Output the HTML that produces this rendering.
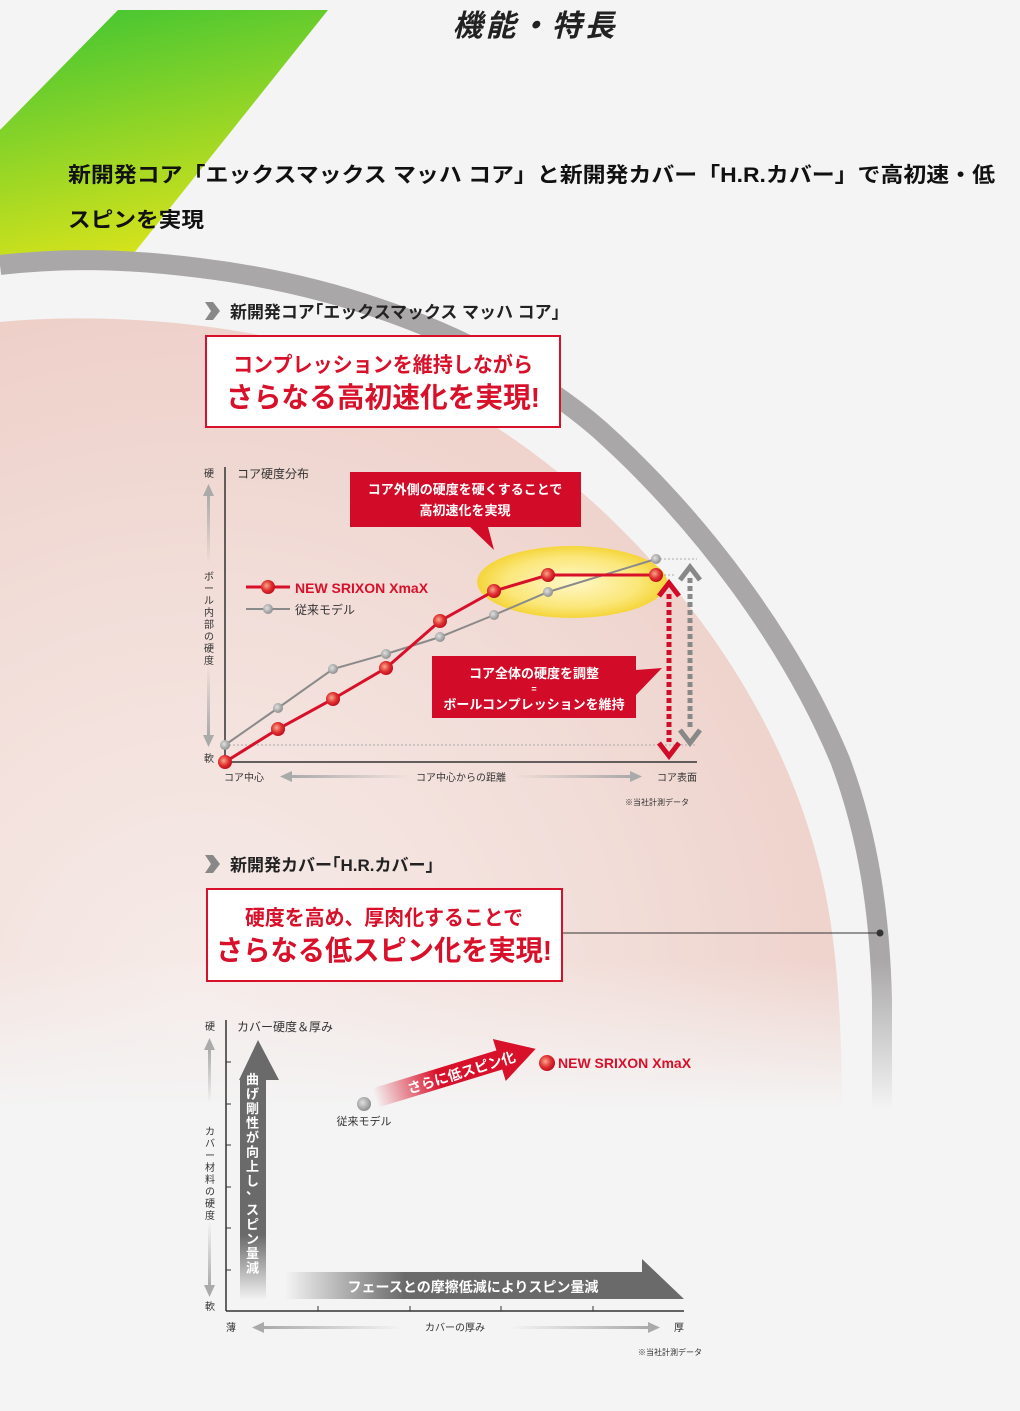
<!DOCTYPE html>
<html><head><meta charset="utf-8"><style>
html,body{margin:0;padding:0;background:#f4f4f4;width:1020px;height:1411px;overflow:hidden;}
svg{display:block;}
text{font-family:"Liberation Sans","Noto Sans CJK JP",sans-serif;}
</style></head><body>
<svg width="1020" height="1411" viewBox="0 0 1020 1411" xmlns="http://www.w3.org/2000/svg">
<defs>
<linearGradient id="grn" x1="0" y1="0" x2="0.3" y2="1">
<stop offset="0" stop-color="#3cc434"/><stop offset="1" stop-color="#d4e21c"/></linearGradient>
<radialGradient id="pink" cx="200" cy="1000" r="700" gradientUnits="userSpaceOnUse">
<stop offset="0" stop-color="#f6ece9"/><stop offset="0.6" stop-color="#f2ddd8"/><stop offset="1" stop-color="#eed0c9"/></radialGradient>
<linearGradient id="fade" x1="0" y1="0" x2="0" y2="1">
<stop offset="0" stop-color="#f4f4f4" stop-opacity="0"/><stop offset="1" stop-color="#f4f4f4" stop-opacity="1"/></linearGradient>
<radialGradient id="yel" cx="0.5" cy="0.5" r="0.5">
<stop offset="0" stop-color="#fff8c8"/><stop offset="0.7" stop-color="#fbe77a"/><stop offset="1" stop-color="#f5d53a"/></radialGradient>
<radialGradient id="rdot" cx="0.4" cy="0.4" r="0.6">
<stop offset="0" stop-color="#f7a88c"/><stop offset="0.6" stop-color="#e03030"/><stop offset="1" stop-color="#c0101e"/></radialGradient>
<radialGradient id="gdot" cx="0.4" cy="0.4" r="0.6">
<stop offset="0" stop-color="#e0e0e0"/><stop offset="1" stop-color="#909090"/></radialGradient>
<linearGradient id="vgray" x1="0" y1="1" x2="0" y2="0">
<stop offset="0" stop-color="#6a6a6a" stop-opacity="0"/><stop offset="0.25" stop-color="#6a6a6a"/><stop offset="1" stop-color="#6a6a6a"/></linearGradient>
<linearGradient id="hgray" x1="0" y1="0" x2="1" y2="0">
<stop offset="0" stop-color="#6a6a6a" stop-opacity="0"/><stop offset="0.3" stop-color="#6a6a6a"/><stop offset="1" stop-color="#6a6a6a"/></linearGradient>
<linearGradient id="hred" x1="0" y1="0" x2="1" y2="0">
<stop offset="0" stop-color="#d8102a" stop-opacity="0"/><stop offset="0.4" stop-color="#d8102a"/><stop offset="1" stop-color="#d8102a"/></linearGradient>
<linearGradient id="axl" x1="0" y1="0" x2="1" y2="0">
<stop offset="0" stop-color="#aaa"/><stop offset="1" stop-color="#aaa" stop-opacity="0"/></linearGradient>
<linearGradient id="axr" x1="0" y1="0" x2="1" y2="0">
<stop offset="0" stop-color="#aaa" stop-opacity="0"/><stop offset="1" stop-color="#aaa"/></linearGradient>
<linearGradient id="axu" x1="0" y1="0" x2="0" y2="1">
<stop offset="0" stop-color="#aaa"/><stop offset="1" stop-color="#aaa" stop-opacity="0"/></linearGradient>
<linearGradient id="axd" x1="0" y1="0" x2="0" y2="1">
<stop offset="0" stop-color="#aaa" stop-opacity="0"/><stop offset="1" stop-color="#aaa"/></linearGradient>
</defs>

<!-- green banner -->
<polygon points="118,10 328,10 130,258 0,258 0,130" fill="url(#grn)"/>

<!-- ball -->
<path d="M0,322 C100,312 300,318 450,400 C600,480 760,650 815,850 C835,920 842,1000 842,1120 L0,1120 Z" fill="url(#pink)"/>
<path d="M0,265 C60,258 120,258 200,268 C380,290 520,360 600,430 C700,520 790,640 840,760 C870,840 880,920 882,1000 L882,1120" fill="none" stroke="#a9a7a7" stroke-width="20"/>
<rect x="0" y="960" width="1020" height="150" fill="url(#fade)"/>
<rect x="0" y="1110" width="1020" height="310" fill="#f4f4f4"/>

<!-- title -->
<text x="535" y="36" font-size="30" font-weight="bold" font-style="italic" text-anchor="middle" fill="#222" letter-spacing="3">機能・特長</text>
<text x="68" y="182" font-size="21" font-weight="bold" fill="#111" textLength="927" lengthAdjust="spacingAndGlyphs">新開発コア「エックスマックス マッハ コア」と新開発カバー「H.R.カバー」で高初速・低</text>
<text x="68" y="227" font-size="21" font-weight="bold" fill="#111" textLength="136" lengthAdjust="spacingAndGlyphs">スピンを実現</text>

<!-- section 1 -->
<polygon points="205,302 213,302 220,311 213,320 205,320 211,311" fill="#888"/>
<text x="230" y="318" font-size="17" font-weight="bold" fill="#222" textLength="330" lengthAdjust="spacingAndGlyphs">新開発コア｢エックスマックス マッハ コア｣</text>
<rect x="206" y="336" width="354" height="91" fill="#fff" stroke="#d8102a" stroke-width="2"/>
<text x="383" y="372" font-size="21" font-weight="bold" fill="#d8102a" text-anchor="middle" textLength="300" lengthAdjust="spacingAndGlyphs">コンプレッションを維持しながら</text>
<text x="383" y="407" font-size="28" font-weight="bold" fill="#d8102a" text-anchor="middle" textLength="314" lengthAdjust="spacingAndGlyphs">さらなる高初速化を実現!</text>

<!-- chart 1 -->
<line x1="225" y1="467" x2="225" y2="762" stroke="#333" stroke-width="1.5"/>
<line x1="225" y1="762" x2="697" y2="762" stroke="#333" stroke-width="1.5"/>
<text x="209" y="477" font-size="10" fill="#333" text-anchor="middle">硬</text>
<text x="209" y="762" font-size="10" fill="#333" text-anchor="middle">軟</text>
<rect x="207" y="494" width="3" height="70" fill="url(#axu)"/><polygon points="203,496 214,496 208.5,484" fill="#aaa"/>
<rect x="207" y="665" width="3" height="70" fill="url(#axd)"/><polygon points="203,735 214,735 208.5,747" fill="#aaa"/>
<text font-size="10" fill="#333"><tspan x="204" y="580">ボ</tspan><tspan x="204" y="592">ー</tspan><tspan x="204" y="604">ル</tspan><tspan x="204" y="616">内</tspan><tspan x="204" y="628">部</tspan><tspan x="204" y="640">の</tspan><tspan x="204" y="652">硬</tspan><tspan x="204" y="664">度</tspan></text>
<text x="237" y="478" font-size="12" fill="#333">コア硬度分布</text>
<text x="224" y="781" font-size="10" fill="#333">コア中心</text>
<text x="461" y="781" font-size="10" fill="#333" text-anchor="middle">コア中心からの距離</text>
<text x="697" y="781" font-size="10" fill="#333" text-anchor="end">コア表面</text>
<rect x="290" y="775" width="120" height="3" fill="url(#axl)"/><polygon points="292,771 292,782 280,776.5" fill="#aaa"/>
<rect x="512" y="775" width="120" height="3" fill="url(#axr)"/><polygon points="630,771 630,782 642,776.5" fill="#aaa"/>
<text x="689" y="805" font-size="8" fill="#333" text-anchor="end">※当社計測データ</text>

<ellipse cx="572" cy="582" rx="95" ry="36" fill="url(#yel)"/>
<line x1="656" y1="559" x2="697" y2="559" stroke="#aaa" stroke-dasharray="2,2"/>
<line x1="225" y1="745" x2="697" y2="745" stroke="#aaa" stroke-dasharray="2,2"/>
<line x1="656" y1="575" x2="675" y2="575" stroke="#aaa" stroke-dasharray="2,2"/>
<polyline points="225,745 278,708 333,669 386,654 440,637 494,615 548,592 656,559" fill="none" stroke="#8a8a8a" stroke-width="2"/>
<g fill="url(#gdot)"><circle cx="225" cy="745" r="5"/><circle cx="278" cy="708" r="5"/><circle cx="333" cy="669" r="5"/><circle cx="386" cy="654" r="5"/><circle cx="440" cy="637" r="5"/><circle cx="494" cy="615" r="5"/><circle cx="548" cy="592" r="5"/><circle cx="656" cy="559" r="5"/></g>
<polyline points="225,762 278,729 333,699 386,668 440,621 494,591 548,575 656,575" fill="none" stroke="#d8102a" stroke-width="3"/>
<g fill="url(#rdot)"><circle cx="225" cy="762" r="7"/><circle cx="278" cy="729" r="7"/><circle cx="333" cy="699" r="7"/><circle cx="386" cy="668" r="7"/><circle cx="440" cy="621" r="7"/><circle cx="494" cy="591" r="7"/><circle cx="548" cy="575" r="7"/><circle cx="656" cy="575" r="7"/></g>

<line x1="246" y1="587" x2="290" y2="587" stroke="#d8102a" stroke-width="3"/><circle cx="268" cy="587" r="7" fill="url(#rdot)"/>
<text x="295" y="593" font-size="14" font-weight="bold" fill="#d8102a">NEW SRIXON XmaX</text>
<line x1="246" y1="609" x2="290" y2="609" stroke="#8a8a8a" stroke-width="2"/><circle cx="268" cy="609" r="5" fill="url(#gdot)"/>
<text x="295" y="614" font-size="12" fill="#333">従来モデル</text>

<!-- callouts -->
<polygon points="350,472 581,472 581,527 488,527 494,550 470,527 350,527" fill="#d20c28"/>
<text x="465" y="494" font-size="13" font-weight="bold" fill="#fff" text-anchor="middle">コア外側の硬度を硬くすることで</text>
<text x="465" y="515" font-size="13" font-weight="bold" fill="#fff" text-anchor="middle">高初速化を実現</text>
<polygon points="432,656 636,656 636,670 662,668 636,695 636,718 432,718" fill="#d20c28"/>
<text x="534" y="678" font-size="13" font-weight="bold" fill="#fff" text-anchor="middle">コア全体の硬度を調整</text>
<text x="534" y="692" font-size="9" font-weight="bold" fill="#fff" text-anchor="middle">=</text>
<text x="534" y="709" font-size="13" font-weight="bold" fill="#fff" text-anchor="middle">ボールコンプレッションを維持</text>

<!-- double arrows -->
<line x1="669" y1="594" x2="669" y2="742" stroke="#d20c28" stroke-width="5" stroke-dasharray="5,3"/>
<polyline points="659,596 669,583 679,596" fill="none" stroke="#d20c28" stroke-width="5"/>
<polyline points="659,743 669,756 679,743" fill="none" stroke="#d20c28" stroke-width="5"/>
<line x1="690" y1="578" x2="690" y2="730" stroke="#888" stroke-width="5" stroke-dasharray="5,3"/>
<polyline points="680,580 690,567 700,580" fill="none" stroke="#888" stroke-width="5"/>
<polyline points="680,730 690,743 700,730" fill="none" stroke="#888" stroke-width="5"/>

<!-- section 2 -->
<polygon points="205,855 213,855 220,864 213,873 205,873 211,864" fill="#888"/>
<text x="230" y="871" font-size="17" font-weight="bold" fill="#222">新開発カバー｢H.R.カバー｣</text>
<rect x="207" y="889" width="355" height="92" fill="#fff" stroke="#d8102a" stroke-width="2"/>
<text x="384" y="925" font-size="21" font-weight="bold" fill="#d8102a" text-anchor="middle" textLength="278" lengthAdjust="spacingAndGlyphs">硬度を高め、厚肉化することで</text>
<text x="384" y="960" font-size="28" font-weight="bold" fill="#d8102a" text-anchor="middle" textLength="336" lengthAdjust="spacingAndGlyphs">さらなる低スピン化を実現!</text>
<line x1="563" y1="933" x2="880" y2="933" stroke="#333" stroke-width="1"/>
<circle cx="880" cy="933" r="3.5" fill="#333"/>

<!-- chart 2 -->
<line x1="226" y1="1020" x2="226" y2="1311" stroke="#333" stroke-width="1.5"/>
<line x1="226" y1="1311" x2="684" y2="1311" stroke="#333" stroke-width="1.5"/>
<g stroke="#333" stroke-width="1"><line x1="226" y1="1062" x2="231" y2="1062"/><line x1="226" y1="1104" x2="231" y2="1104"/><line x1="226" y1="1145" x2="231" y2="1145"/><line x1="226" y1="1187" x2="231" y2="1187"/><line x1="226" y1="1228" x2="231" y2="1228"/><line x1="226" y1="1270" x2="231" y2="1270"/>
<line x1="318" y1="1311" x2="318" y2="1306"/><line x1="410" y1="1311" x2="410" y2="1306"/><line x1="501" y1="1311" x2="501" y2="1306"/><line x1="593" y1="1311" x2="593" y2="1306"/></g>
<text x="210" y="1030" font-size="10" fill="#333" text-anchor="middle">硬</text>
<text x="210" y="1310" font-size="10" fill="#333" text-anchor="middle">軟</text>
<rect x="208" y="1048" width="3" height="55" fill="url(#axu)"/><polygon points="204,1050 215,1050 209.5,1038" fill="#aaa"/>
<rect x="208" y="1222" width="3" height="65" fill="url(#axd)"/><polygon points="204,1285 215,1285 209.5,1297" fill="#aaa"/>
<text font-size="10" fill="#333"><tspan x="205" y="1135">カ</tspan><tspan x="205" y="1147">バ</tspan><tspan x="205" y="1159">ー</tspan><tspan x="205" y="1171">材</tspan><tspan x="205" y="1183">料</tspan><tspan x="205" y="1195">の</tspan><tspan x="205" y="1207">硬</tspan><tspan x="205" y="1219">度</tspan></text>
<text x="237" y="1031" font-size="12" fill="#333">カバー硬度＆厚み</text>
<text x="226" y="1331" font-size="10" fill="#333">薄</text>
<text x="684" y="1331" font-size="10" fill="#333" text-anchor="end">厚</text>
<text x="455" y="1331" font-size="10" fill="#333" text-anchor="middle">カバーの厚み</text>
<rect x="262" y="1326" width="140" height="3" fill="url(#axl)"/><polygon points="264,1322 264,1333 252,1327.5" fill="#aaa"/>
<rect x="510" y="1326" width="140" height="3" fill="url(#axr)"/><polygon points="648,1322 648,1333 660,1327.5" fill="#aaa"/>
<text x="702" y="1355" font-size="8" fill="#333" text-anchor="end">※当社計測データ</text>

<path d="M240,1300 L240,1080 L239,1080 L258,1040 L279,1080 L266,1080 L266,1300 Z" fill="url(#vgray)"/>
<text font-size="13" font-weight="bold" fill="#fff"><tspan x="246" y="1084">曲</tspan><tspan x="246" y="1098.5">げ</tspan><tspan x="246" y="1113">剛</tspan><tspan x="246" y="1127.5">性</tspan><tspan x="246" y="1142">が</tspan><tspan x="246" y="1156.5">向</tspan><tspan x="246" y="1171">上</tspan><tspan x="246" y="1185.5">し</tspan><tspan x="246" y="1194">、</tspan><tspan x="246" y="1214.5">ス</tspan><tspan x="246" y="1229">ピ</tspan><tspan x="246" y="1243.5">ン</tspan><tspan x="246" y="1258">量</tspan><tspan x="246" y="1272.5">減</tspan></text>
<path d="M285,1272 L642,1272 L642,1259 L684,1299 L285,1299 Z" fill="url(#hgray)"/>
<text x="473" y="1292" font-size="14" font-weight="bold" fill="#fff" text-anchor="middle">フェースとの摩擦低減によりスピン量減</text>

<g transform="translate(375,1098) rotate(-17)">
<path d="M0,-10 L130,-10 L130,-22 L168,0 L130,22 L130,10 L0,10 Z" fill="url(#hred)"/>
<text x="90" y="6" font-size="14" font-weight="bold" fill="#fff" text-anchor="middle">さらに低スピン化</text>
</g>
<circle cx="364" cy="1104" r="7" fill="url(#gdot)"/>
<text x="364" y="1125" font-size="11" fill="#333" text-anchor="middle">従来モデル</text>
<circle cx="547" cy="1063" r="8" fill="url(#rdot)"/>
<text x="558" y="1068" font-size="14" font-weight="bold" fill="#d8102a">NEW SRIXON XmaX</text>
</svg>
</body></html>
